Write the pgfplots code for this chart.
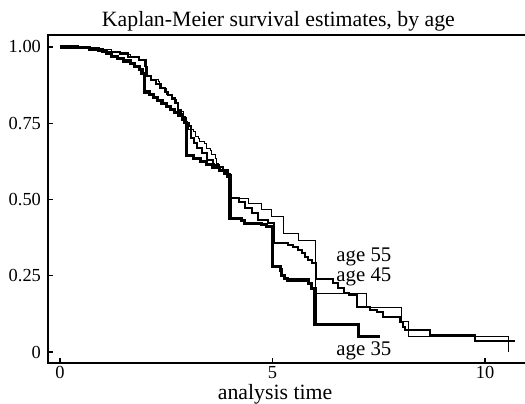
\documentclass[border=0pt]{standalone}
\usepackage{fontspec}
\setmainfont{Liberation Serif}
\usepackage{pgfplots}
\pgfplotsset{compat=1.18}

\begin{document}
\begin{tikzpicture}
  \begin{axis}[
    scale only axis,
    width=238.5pt, height=164pt,
    xmin=-0.282, xmax=10.94,
    ymin=-0.036, ymax=1.039,
    xtick={0,5,10}, xticklabels={0,5,10},
    ytick={0,0.25,0.5,0.75,1}, yticklabels={0,0.25,0.50,0.75,1.00},
    xtick pos=left, ytick pos=left,
    tick align=inside,
    major tick length=2.5pt,
    tick style={black,line width=0.6pt},
    axis line style={draw=none},
    /pgf/number format/assume math mode=true,
    tick label style={font=\fontsize{9.2}{11}\selectfont},
    xticklabel style={yshift=1.8pt},
    title={Kaplan-Meier survival estimates, by age},
    title style={font=\fontsize{10.9}{13}\selectfont,anchor=base,yshift=-6pt,
      at={(axis description cs:0.483,1.027)}},
    xlabel={analysis time},
    xlabel style={font=\fontsize{10.9}{13}\selectfont,anchor=base,yshift=-1.5pt,
      at={(axis description cs:0.476,-0.103)}},
    clip=false,
  ]
    \draw[line width=0.7pt] (rel axis cs:1,1) -- (rel axis cs:0,1)
      -- (rel axis cs:0,0) -- (rel axis cs:1,0);

    % age 35
    \addplot[const plot, black, line width=1.6pt] coordinates {
      (0,1) (0.4,0.997) (0.7,0.993) (0.9,0.99) (1.0,0.985) (1.1,0.979)
      (1.22,0.968) (1.35,0.962) (1.5,0.954) (1.65,0.946) (1.76,0.936)
      (1.88,0.925) (1.93,0.912) (1.98,0.852) (2.1,0.845) (2.2,0.835)
      (2.3,0.825) (2.4,0.815) (2.5,0.805) (2.6,0.795) (2.7,0.785)
      (2.8,0.775) (2.88,0.762) (2.94,0.752) (2.98,0.645) (3.15,0.635)
      (3.3,0.625) (3.45,0.615) (3.6,0.605) (3.75,0.595) (3.88,0.585)
      (3.95,0.577) (4.0,0.438) (4.27,0.43) (4.35,0.422) (4.75,0.418)
      (4.85,0.411) (5.0,0.28) (5.18,0.269) (5.22,0.252) (5.29,0.242)
      (5.35,0.236) (5.84,0.225) (5.92,0.209) (6.0,0.089) (7.02,0.05)
      (7.53,0.05)};

    % age 45
    \addplot[const plot, black, line width=1.0pt] coordinates {
      (0,1) (0.5,0.997) (0.8,0.99) (1.1,0.984) (1.41,0.979) (1.6,0.968)
      (1.85,0.957) (2.02,0.903) (2.15,0.893) (2.27,0.88) (2.38,0.866)
      (2.47,0.853) (2.55,0.843) (2.63,0.832) (2.7,0.815) (2.78,0.793)
      (2.85,0.78) (2.9,0.766) (2.97,0.752) (3.03,0.74) (3.08,0.70)
      (3.15,0.685) (3.22,0.668) (3.33,0.651) (3.45,0.63) (3.6,0.613)
      (3.75,0.605) (3.84,0.597) (3.95,0.58) (4.02,0.504) (4.2,0.493)
      (4.35,0.471) (4.51,0.455) (4.67,0.433) (4.9,0.422) (5.03,0.356)
      (5.37,0.351) (5.49,0.345) (5.61,0.334) (5.69,0.324) (5.76,0.312)
      (5.84,0.302) (5.92,0.291) (6.02,0.24) (6.43,0.225) (6.55,0.21)
      (6.67,0.192) (6.8,0.187) (6.98,0.149) (7.3,0.138) (7.45,0.132)
      (7.61,0.116) (8.0,0.10) (8.06,0.083) (8.12,0.072) (8.71,0.056)
      (9.76,0.037) (10.7,0.037)};

    % age 55
    \addplot[const plot, black, line width=0.5pt] coordinates {
      (0,1) (0.7,0.995) (1.0,0.99) (1.22,0.984) (1.41,0.975) (1.65,0.968)
      (1.88,0.957) (2.0,0.935) (2.05,0.905) (2.12,0.892) (2.31,0.886)
      (2.35,0.865) (2.51,0.843) (2.63,0.826) (2.75,0.815) (2.78,0.793)
      (2.86,0.788) (2.9,0.771) (2.96,0.745) (3.02,0.728) (3.14,0.722)
      (3.18,0.706) (3.25,0.70) (3.29,0.69) (3.41,0.684) (3.45,0.668)
      (3.53,0.662) (3.57,0.646) (3.65,0.635) (3.69,0.619) (3.73,0.602)
      (3.76,0.597) (3.9,0.585) (4.02,0.504) (4.43,0.487) (4.75,0.466)
      (4.98,0.444) (5.25,0.389) (5.61,0.367) (6.02,0.192) (7.2,0.145)
      (8.04,0.10) (8.2,0.05) (10.55,0.0)};

    \node[anchor=base,font=\fontsize{10.4}{12}\selectfont]
      at (axis cs:7.15,0.296) {age 55};
    \node[anchor=base,font=\fontsize{10.4}{12}\selectfont]
      at (axis cs:7.15,0.230) {age 45};
    \node[anchor=base,font=\fontsize{10.4}{12}\selectfont]
      at (axis cs:7.15,-0.010) {age 35};
  \end{axis}
  \pgfresetboundingbox
  \useasboundingbox (-24pt,-20pt) rectangle (238.5pt,181.5pt);
\end{tikzpicture}
\end{document}
